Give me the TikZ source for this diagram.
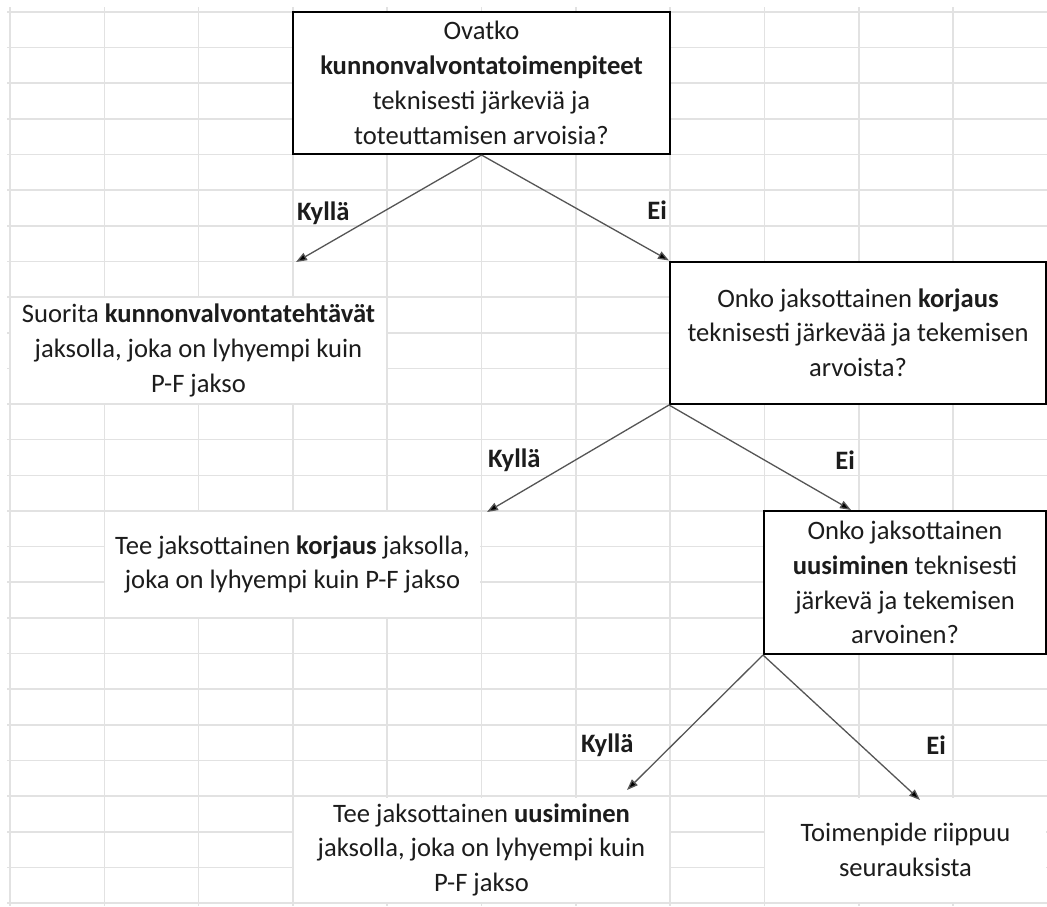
\documentclass[tikz,border=0pt]{standalone}
\usepackage{fontspec}
\setmainfont{Carlito}
\usetikzlibrary{arrows.meta}

\definecolor{gridgray}{RGB}{226,226,226}
\definecolor{inkc}{RGB}{28,28,28}
\definecolor{linkgray}{RGB}{85,85,85}

\newcommand\cellfont{\fontsize{26.6}{34.8}\selectfont}

\tikzset{
  gridline/.style={draw=gridgray, line width=1.6pt},
  mergedcell/.style={fill=white, inner sep=0pt, align=center, text=inkc, font=\cellfont},
  qbox/.style={mergedcell, draw=black, line width=2pt},
  link/.style={draw=linkgray, line width=1.3pt,
    -{Triangle[length=11pt,width=8pt,fill=black]}},
  answer/.style={font=\cellfont\bfseries, text=inkc, inner sep=0pt},
}

\begin{document}
\begin{tikzpicture}[x=1pt, y=-1pt]
  \useasboundingbox (0,0) rectangle (1047,906);
  \fill[white] (0,0) rectangle (1047,906);

  % spreadsheet grid
  \foreach \k in {0,...,10}
    \draw[gridline] ({10+94.3*\k},7) -- ({10+94.3*\k},906);
  \foreach \r in {0,...,25}
    \draw[gridline] (7,{12+35.64*\r}) -- (1047,{12+35.64*\r});

  % question boxes
  \node[qbox, minimum width=377pt, minimum height=142pt] (q1) at (481.5,83)
    {Ovatko\\ \textbf{kunnonvalvontatoimenpiteet}\\ teknisesti järkeviä ja\\ toteuttamisen arvoisia?};
  \node[qbox, minimum width=376pt, minimum height=142.5pt] (q2) at (858,332.75)
    {Onko jaksottainen \textbf{korjaus}\\ teknisesti järkevää ja tekemisen\\ arvoista?};
  \node[qbox, minimum width=282pt, minimum height=143pt] (q3) at (905,582.5)
    {Onko jaksottainen\\ \textbf{uusiminen} teknisesti\\ järkevä ja tekemisen\\ arvoinen?};

  % outcome cells
  \node[mergedcell, minimum width=375pt, minimum height=105pt] (r1) at (198.5,350.5)
    {Suorita \textbf{kunnonvalvontatehtävät}\\ jaksolla, joka on lyhyempi kuin\\ P-F jakso};
  \node[mergedcell, minimum width=375pt, minimum height=105pt] (r2) at (292.5,564.5)
    {Tee jaksottainen \textbf{korjaus} jaksolla,\\ joka on lyhyempi kuin P-F jakso};
  \node[mergedcell, minimum width=375pt, minimum height=104.5pt] (r3) at (481.5,849.75)
    {Tee jaksottainen \textbf{uusiminen}\\ jaksolla, joka on lyhyempi kuin\\ P-F jakso};
  \node[mergedcell, minimum width=281pt, minimum height=104.5pt] (r4) at (905.5,849.75)
    {Toimenpide riippuu\\ seurauksista};

  % branch labels
  \node[answer, anchor=west] (y1) at (297,213) {Kyllä};
  \node[answer, anchor=east] (n1) at (667,210) {Ei};
  \node[answer, anchor=west] (y2) at (488,460) {Kyllä};
  \node[answer, anchor=east] (n2) at (855,460) {Ei};
  \node[answer, anchor=west] (y3) at (581,745) {Kyllä};
  \node[answer, anchor=east] (n3) at (946,745) {Ei};

  % arrow end points
  \coordinate (t1) at (296,262);
  \coordinate (t2) at (487,512);
  \coordinate (t3) at (851,510);
  \coordinate (t4) at (627,790);
  \coordinate (t5) at (920,800);

  % connectors
  \draw[link] (q1.south) -- (t1);
  \draw[link] (q1.south) -- (q2.north west);
  \draw[link] (q2.south west) -- (t2);
  \draw[link] (q2.south west) -- (t3);
  \draw[link] (q3.south west) -- (t4);
  \draw[link] (q3.south west) -- (t5);
\end{tikzpicture}
\end{document}
